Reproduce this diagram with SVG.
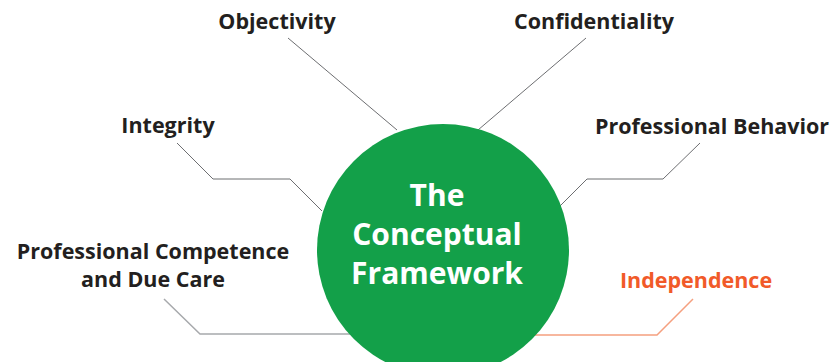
<svg xmlns="http://www.w3.org/2000/svg" width="831" height="362" viewBox="0 0 831 362">
<style>
.lbl{font-family:"Open Sans","Liberation Sans",sans-serif;font-weight:700;font-size:21.5px;fill:#231f20;text-anchor:middle}
.ind{fill:#f15a29}
.ctr{font-family:"Open Sans","Liberation Sans",sans-serif;font-weight:700;font-size:30px;fill:#ffffff;text-anchor:middle}
.ln{fill:none;stroke:#6d6e71;stroke-width:1}
</style>
<rect width="831" height="362" fill="#ffffff"/>
<g id="connectors">
<polyline class="ln" points="288,38 397,130"/>
<polyline class="ln" points="586,38 478,130"/>
<polyline class="ln" points="177,143 213,179 290,179 322,211"/>
<polyline class="ln" points="700,143 663,179 587,179 555,211"/>
<polyline fill="none" stroke="#a7a9ac" stroke-width="1.5" points="164,299 200,334 360,334"/>
<polyline fill="none" stroke="#f5a07f" stroke-width="1.5" points="693,299 657,335 515,335"/>
</g>
<g id="center">
<circle cx="443" cy="250" r="126" fill="#13a049"/>
<text class="ctr" x="437" y="206">The</text>
<text class="ctr" x="437" y="245">Conceptual</text>
<text class="ctr" x="437" y="284">Framework</text>
</g>
<g id="objectivity"><text class="lbl" x="277" y="29">Objectivity</text></g>
<g id="confidentiality"><text class="lbl" x="594" y="29">Confidentiality</text></g>
<g id="integrity"><text class="lbl" x="168" y="133">Integrity</text></g>
<g id="professional-behavior"><text class="lbl" x="712" y="134">Professional Behavior</text></g>
<g id="professional-competence"><text class="lbl" x="153" y="259">Professional Competence</text><text class="lbl" x="153" y="287">and Due Care</text></g>
<g id="independence"><text class="lbl ind" x="696" y="288">Independence</text></g>
</svg>
